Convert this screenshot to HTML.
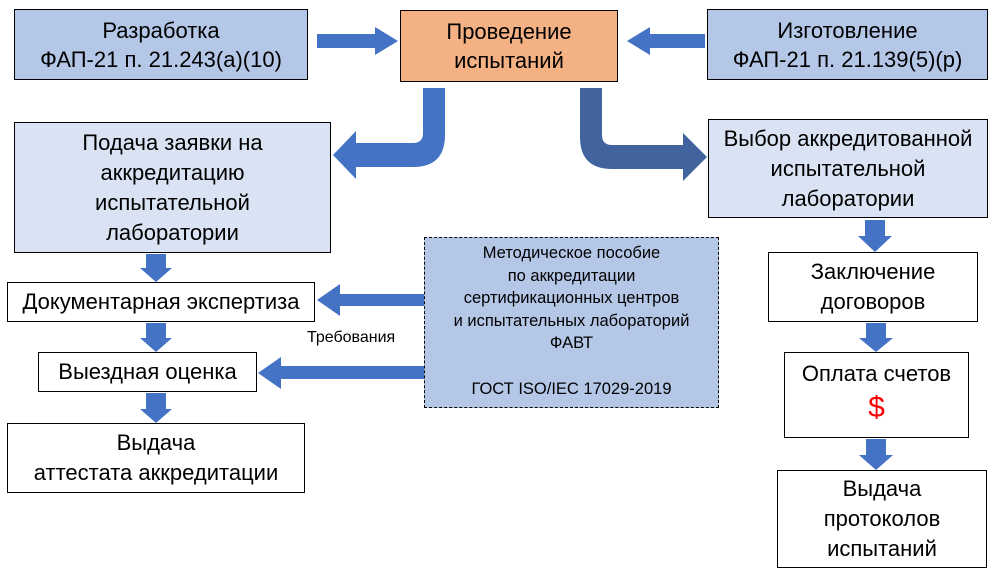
<!DOCTYPE html>
<html><head><meta charset="utf-8"><style>
body{margin:0;width:995px;height:580px;background:#fff;position:relative;overflow:hidden;font-family:"Liberation Sans","DejaVu Sans",sans-serif;color:#000}
.b{position:absolute;box-sizing:border-box;border:1px solid #000;text-align:center;font-size:22px;line-height:30px;display:flex;flex-direction:column;justify-content:center;align-items:center;white-space:nowrap}
svg{position:absolute;left:0;top:0}
</style></head><body>
<svg width="995" height="580">
<g fill="#4472c4">
<polygon points="317,34 375,34 375,27 398,41 375,55 375,48 317,48"/>
<polygon points="705,34 650,34 650,27 627,41 650,55 650,48 705,48"/>
<path d="M423,88 L445,88 L445,135 Q445,167 413,167 L356,167 L356,179 L333,155 L356,131 L356,143 L413,143 Q423,143 423,133 Z"/>
<polygon points="146,254 166,254 166,268 172,268 156,282 140,268 146,268"/>
<polygon points="146,323 166,323 166,338 172,338 156,352 140,338 146,338"/>
<polygon points="146,393 166,393 166,409 172,409 156,423 140,409 146,409"/>
<polygon points="865,220 885,220 885,236 892,236 875,252 858,236 865,236"/>
<polygon points="866,323 886,323 886,338 893,338 876,352 859,338 866,338"/>
<polygon points="866,439 886,439 886,455 893,455 876,470 859,455 866,455"/>
<polygon points="424,294 340,294 340,284 317,300 340,316 340,306 424,306"/>
<polygon points="424,366 281,366 281,357 258,373 281,389 281,379 424,379"/>
</g>
<path fill="#41649e" d="M580,88 L602,88 L602,135 Q602,145 612,145 L683,145 L683,133 L707,157 L683,181 L683,169 L612,169 Q580,169 580,137 Z"/>
</svg>
<div class="b" style="left:14px;top:9px;width:294px;height:71px;background:#b4c7e7;line-height:29px">Разработка<br>ФАП-21 п. 21.243(а)(10)</div>
<div class="b" style="left:400px;top:10px;width:218px;height:72px;background:#f4b183;line-height:29px">Проведение<br>испытаний</div>
<div class="b" style="left:707px;top:9px;width:281px;height:71px;background:#b4c7e7;line-height:29px">Изготовление<br>ФАП-21 п. 21.139(5)(р)</div>
<div class="b" style="left:14px;top:122px;width:317px;height:131px;background:#dae3f3">Подача заявки на<br>аккредитацию<br>испытательной<br>лаборатории</div>
<div class="b" style="left:708px;top:119px;width:280px;height:99px;background:#dae3f3">Выбор аккредитованной<br>испытательной<br>лаборатории</div>
<div class="b" style="left:7px;top:282px;width:308px;height:40px">Документарная экспертиза</div>
<div class="b" style="left:38px;top:352px;width:219px;height:40px">Выездная оценка</div>
<div class="b" style="left:7px;top:423px;width:298px;height:70px">Выдача<br>аттестата аккредитации</div>
<div class="b" style="left:424px;top:237px;width:295px;height:171px;background:#b4c7e7;border:1px dashed #000;font-size:16.5px;line-height:22.6px;justify-content:flex-start;padding-top:4px">Методическое пособие<br>по аккредитации<br>сертификационных центров<br>и испытательных лабораторий<br>ФАВТ<br>&nbsp;<br>ГОСТ ISO/IEC 17029-2019</div>
<div style="position:absolute;left:307px;top:329px;font-size:16px">Требования</div>
<div class="b" style="left:768px;top:252px;width:210px;height:70px">Заключение<br>договоров</div>
<div class="b" style="left:784px;top:352px;width:185px;height:86px;justify-content:flex-start;padding-top:6px">Оплата счетов<br><span style="color:#ff0000;font-size:30px;line-height:38px">$</span></div>
<div class="b" style="left:777px;top:470px;width:210px;height:98px">Выдача<br>протоколов<br>испытаний</div>
</body></html>
